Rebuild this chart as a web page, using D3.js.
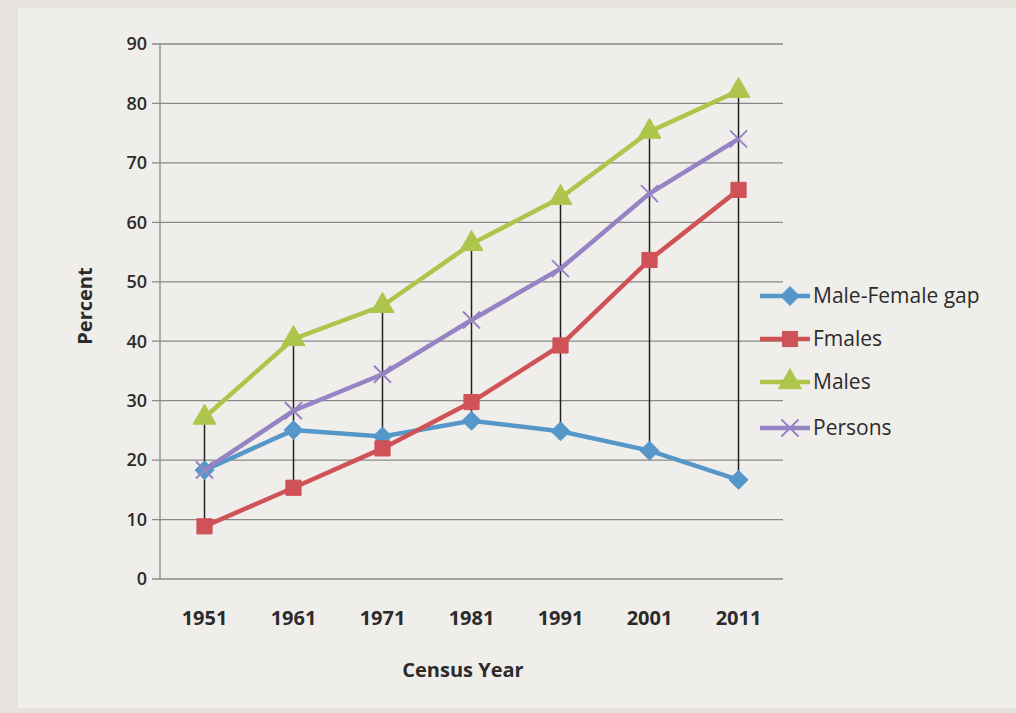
<!DOCTYPE html>
<html lang="en">
<head>
<meta charset="utf-8">
<title>Literacy rate by census year</title>
<script src="https://d3js.org/d3.v7.min.js"></script>
<style>
  body { margin: 0; background: #e6e3de; }
  text { font-family: "Open Sans", "DejaVu Sans", sans-serif; fill: #2b2b2b; }
</style>
</head>
<body>
<div class="chart"></div>
<script>
// census years and literacy (%) per series
const years = ['1951', '1961', '1971', '1981', '1991', '2001', '2011'];
const gap = [18.3, 25.05, 23.98, 26.62, 24.84, 21.59, 16.68];
const females = [8.86, 15.35, 21.97, 29.76, 39.29, 53.67, 65.46];
const males = [27.16, 40.4, 45.96, 56.38, 64.13, 75.26, 82.14];
const persons = [18.33, 28.3, 34.45, 43.57, 52.21, 64.83, 74.04];
const yTicks = [0, 10, 20, 30, 40, 50, 60, 70, 80, 90];

const series = [
  {name: 'Male-Female gap', values: gap, color: '#5597c9', shape: d3.symbolDiamond2},
  {name: 'Fmales', values: females, color: '#cf5257', shape: d3.symbolSquare},
  {name: 'Males', values: males, color: '#adc54a', shape: d3.symbolTriangle},
  {name: 'Persons', values: persons, color: '#9584c4', shape: d3.symbolTimes}
];

const width = 1016, height = 713;
const svg = d3.select('.chart').append('svg')
  .attr('width', width).attr('height', height);

// paper
svg.append('rect').attr('x', 18).attr('y', 8).attr('width', 998).attr('height', 700)
  .attr('fill', '#f0eeea');

const x = d3.scaleBand().domain(years).range([160, 783]);
const y = d3.scaleLinear().domain([0, 90]).range([579, 44]);
const cx = d => x(d) + x.bandwidth() / 2;
const symSize = s => s === d3.symbolTimes ? 190 : 230;

// gridlines
svg.append('g').selectAll('line').data(yTicks).enter().append('line')
  .attr('x1', 152).attr('x2', 783)
  .attr('y1', d => y(d)).attr('y2', d => y(d))
  .attr('stroke', '#8a8886').attr('stroke-width', 1.3);

// y axis line
svg.append('line').attr('x1', 160).attr('x2', 160).attr('y1', y(90)).attr('y2', y(0))
  .attr('stroke', '#8a8886').attr('stroke-width', 1.3);

svg.append('g').selectAll('text').data(yTicks).enter().append('text')
  .attr('x', 147).attr('y', d => y(d)).attr('dy', '0.35em')
  .attr('text-anchor', 'end').attr('font-size', 18).attr('font-weight', 600)
  .text(d => d);

svg.append('g').selectAll('text').data(years).enter().append('text')
  .attr('x', d => cx(d)).attr('y', 625)
  .attr('text-anchor', 'middle').attr('font-size', 20).attr('font-weight', 'bold')
  .text(d => d);

svg.append('text').attr('transform', 'translate(92,306) rotate(-90)')
  .attr('text-anchor', 'middle').attr('font-size', 20).attr('font-weight', 'bold')
  .text('Percent');
svg.append('text').attr('x', 463).attr('y', 677)
  .attr('text-anchor', 'middle').attr('font-size', 20).attr('font-weight', 'bold')
  .text('Census Year');

// high-low lines
svg.append('g').selectAll('line').data(years).enter().append('line')
  .attr('x1', d => cx(d)).attr('x2', d => cx(d))
  .attr('y1', (d, i) => y(d3.max(series, s => s.values[i])))
  .attr('y2', (d, i) => y(d3.min(series, s => s.values[i])))
  .attr('stroke', '#222').attr('stroke-width', 1.5);

const line = d3.line().x((d, i) => cx(years[i])).y(d => y(d));

series.forEach(s => {
  svg.append('path').attr('d', line(s.values))
    .attr('fill', 'none').attr('stroke', s.color).attr('stroke-width', 4.5);
  svg.append('g').selectAll('path').data(s.values).enter().append('path')
    .attr('transform', (d, i) => `translate(${cx(years[i])},${y(d)})`)
    .attr('d', d3.symbol().type(s.shape).size(symSize(s.shape)))
    .attr('fill', s.shape === d3.symbolTimes ? 'none' : s.color)
    .attr('stroke', s.color).attr('stroke-width', s.shape === d3.symbolTimes ? 2 : 1);
});

// legend
const legend = svg.append('g').selectAll('g').data(series).enter().append('g')
  .attr('transform', (d, i) => `translate(760,${[296, 339, 382, 428][i]})`);
legend.append('line').attr('x1', 0).attr('x2', 50)
  .attr('stroke', d => d.color).attr('stroke-width', 4.5);
legend.append('path')
  .attr('transform', 'translate(30,0)')
  .attr('d', d => d3.symbol().type(d.shape).size(symSize(d.shape))())
  .attr('fill', d => d.shape === d3.symbolTimes ? 'none' : d.color)
  .attr('stroke', d => d.color).attr('stroke-width', d => d.shape === d3.symbolTimes ? 2 : 1);
legend.append('text').attr('x', 53).attr('dy', '0.35em').attr('font-size', 21)
  .text(d => d.name);
</script>
</body>
</html>
